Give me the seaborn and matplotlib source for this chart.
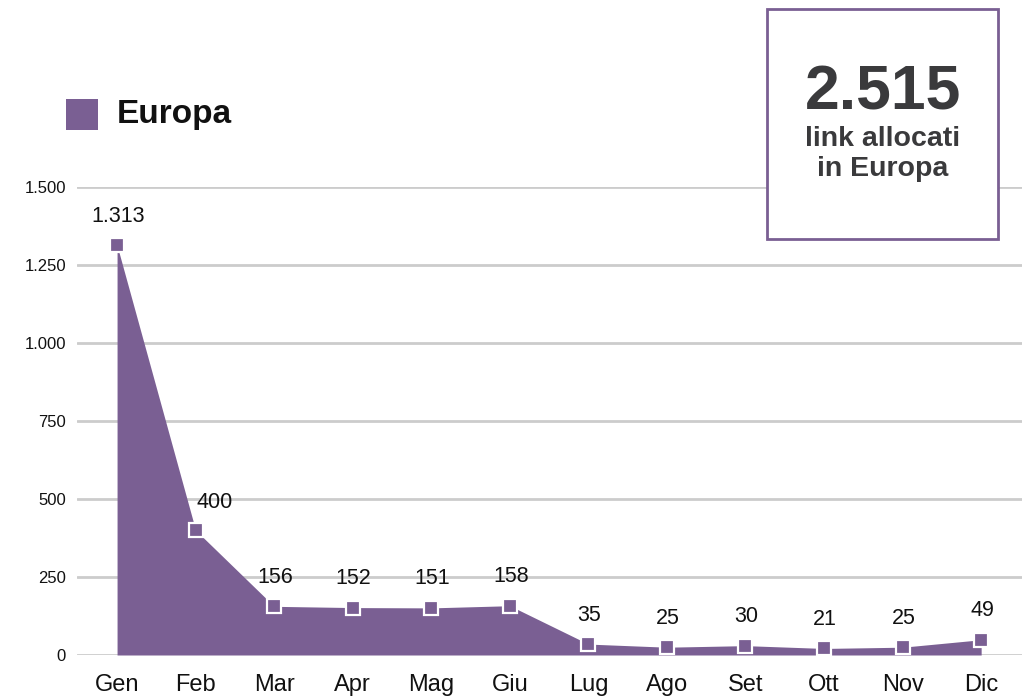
import matplotlib
matplotlib.use("Agg")
import matplotlib.pyplot as plt
import seaborn as sns
import pandas as pd
from matplotlib.patches import Rectangle

months = ["Gen", "Feb", "Mar", "Apr", "Mag", "Giu", "Lug", "Ago", "Set", "Ott", "Nov", "Dic"]
values = [1313, 400, 156, 152, 151, 158, 35, 25, 30, 21, 25, 49]
labels = ["1.313", "400", "156", "152", "151", "158", "35", "25", "30", "21", "25", "49"]
yticks = [0, 250, 500, 750, 1000, 1250, 1500]
ytick_labels = ["0", "250", "500", "750", "1.000", "1.250", "1.500"]
series_name = "Europa"
total_text = "2.515"
total_sub = "link allocati\nin Europa"

purple = "#7a5f93"
sns.set_theme(style="white")
plt.rcParams['font.family'] = ['Liberation Sans', 'DejaVu Sans']

df = pd.DataFrame({"x": range(len(months)), "y": values})

fig = plt.figure(figsize=(10.27, 6.96), dpi=100)
ax = fig.add_axes([77/1027, 1-655/696, (1022-77)/1027, (655-187)/696])

ax.fill_between(df["x"], 0, df["y"], color=purple, lw=0, zorder=2)
sns.lineplot(data=df, x="x", y="y", ax=ax, color=purple, lw=0, marker="s",
             markersize=9.5, markeredgecolor="white", markeredgewidth=1.6, zorder=4)

for i, (v, lab) in enumerate(zip(values, labels)):
    if i == 1:
        off = (19, 28)
    else:
        off = (1, 29)
    ax.annotate(lab, (i, v), xytext=off, textcoords="offset pixels",
                ha="center", va="center", fontsize=15.5, color="#111111", zorder=5)

ax.set_xlim(-0.51, 11.52)
ax.set_ylim(0, 1500)
ax.set_yticks(yticks)
ax.set_yticklabels(ytick_labels, fontsize=12, color="#111111")
ax.set_xticks(range(len(months)))
ax.set_xticklabels(months, fontsize=17, color="#111111")
ax.tick_params(axis="y", length=0, pad=8)
ax.tick_params(axis="x", length=0, pad=14)
for s in ax.spines.values():
    s.set_visible(False)
ax.grid(axis="y", color="#cccccc", lw=2, zorder=1)
ax.set_axisbelow(True)
ax.set_xlabel("")
ax.set_ylabel("")

# legend
fig.patches.append(Rectangle((66/1027, 1-130/696), 32/1027, 31/696, transform=fig.transFigure,
                             color=purple, lw=0))
fig.text(117/1027, 1-115/696, series_name, fontsize=24, fontweight="bold", color="#111111",
         ha="left", va="center")

# total box
fig.patches.append(Rectangle((767/1027, 1-239/696), 231/1027, 230/696, transform=fig.transFigure,
                             facecolor="white", edgecolor=purple, lw=2, zorder=10))
fig.text(883/1027, 1-93/696, total_text, fontsize=45, fontweight="heavy", color="#3a3a3c",
         ha="center", va="center", zorder=11)
fig.text(883/1027, 1-154/696, total_sub, fontsize=20.5, fontweight="heavy", color="#3a3a3c",
         ha="center", va="center", linespacing=1.15, zorder=11)

fig.savefig("out.png", dpi=100)
